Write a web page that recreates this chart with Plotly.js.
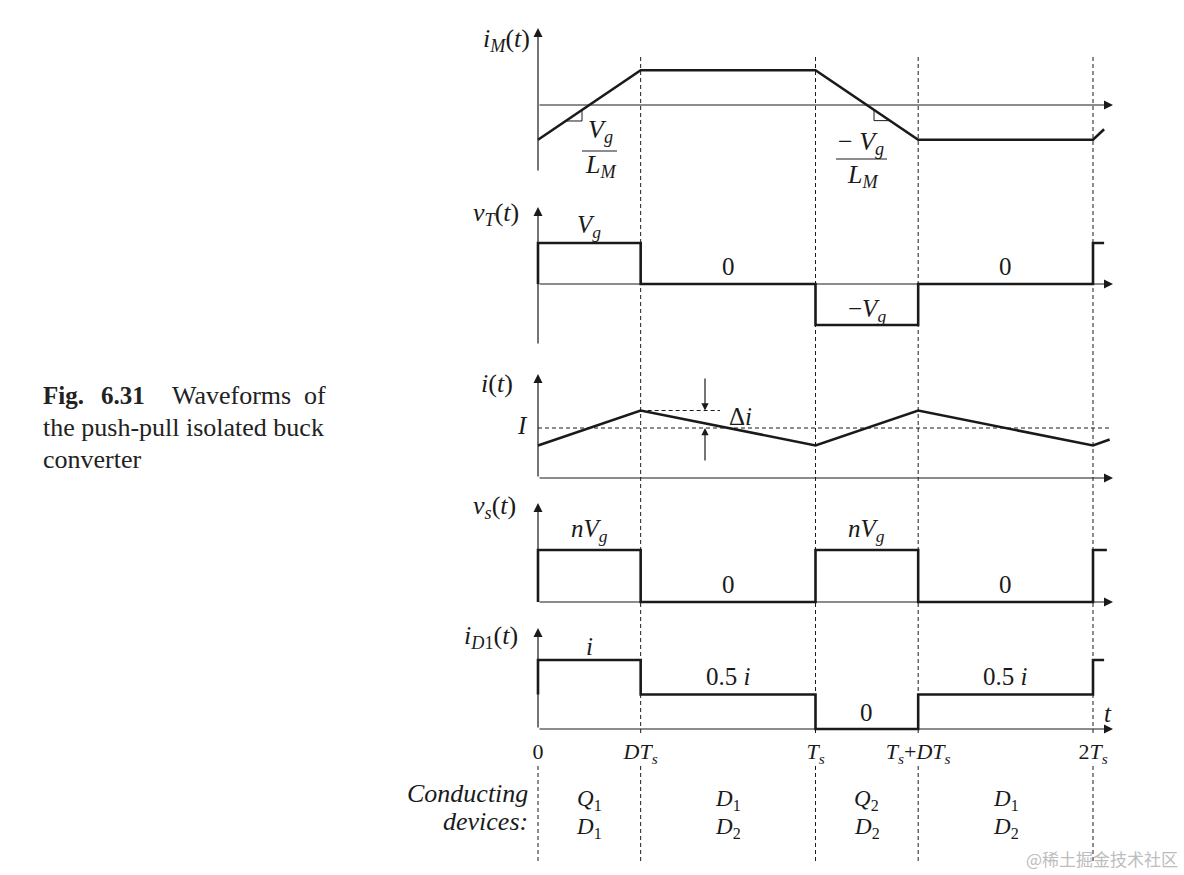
<!DOCTYPE html>
<html><head><meta charset="utf-8">
<script src="https://cdn.plot.ly/plotly-3.0.1.min.js"></script>
<style>html,body{margin:0;padding:0;background:#fff;}#chart{width:1184px;height:875px;}</style>
</head><body><div id="chart"></div>
<script>
// ---------- data (time in units of Ts, D = 0.37) ----------
const tickVals = [0, 0.37, 1, 1.37, 2];
const tickText = ['0', '<i>DT<sub>s</sub></i>', '<i>T<sub>s</sub></i>',
  '<i>T<sub>s</sub></i>+<i>DT<sub>s</sub></i>', '2<i>T<sub>s</sub></i>'];

const tIM = [0, 0.37, 1, 1.37, 2, 2.04];
const iM  = [-1, 1, 1, -1, -1, -0.7];

const tVT = [0, 0, 0.37, 0.37, 1, 1, 1.37, 1.37, 2, 2, 2.04];
const vT  = [0, 1, 1, 0, 0, -1, -1, 0, 0, 1, 1];

const tI  = [0, 0.37, 1, 1.37, 2, 2.06];
const iL  = [0.65, 1.35, 0.65, 1.35, 0.65, 0.77];
const iAvg = 1;

const tVS = [0, 0, 0.37, 0.37, 1, 1, 1.37, 1.37, 2, 2, 2.05];
const vS  = [0, 1, 1, 0, 0, 1, 1, 0, 0, 1, 1];

const tD1 = [0, 0, 0.37, 0.37, 1, 1, 1.37, 1.37, 2, 2, 2.04];
const iD1 = [0.5, 1, 1, 0.5, 0.5, 0, 0, 0.5, 0.5, 1, 1];

const slope1X = [0.10, 0.1586, 0.1586];
const slope1Y = [-0.46, -0.46, -0.143];
const slope2X = [1.2108, 1.2108, 1.2685];
const slope2Y = [-0.139, -0.45, -0.45];

const intervalMid = [0.185, 0.685, 1.185, 1.685];
const devTop    = ['<i>Q</i><sub>1</sub>', '<i>D</i><sub>1</sub>', '<i>Q</i><sub>2</sub>', '<i>D</i><sub>1</sub>'];
const devBottom = ['<i>D</i><sub>1</sub>', '<i>D</i><sub>2</sub>', '<i>D</i><sub>2</sub>', '<i>D</i><sub>2</sub>'];
const vTLabels  = ['<i>V<sub>g</sub></i>', '0', '−<i>V<sub>g</sub></i>', '0'];
const vSLabels  = ['<i>nV<sub>g</sub></i>', '0', '<i>nV<sub>g</sub></i>', '0'];
const iD1Labels = ['<i>i</i>', '0.5 <i>i</i>', '0', '0.5 <i>i</i>'];

// ---------- layout geometry ----------
const W = 1184, H = 875, X0 = 538, PXU = 277.5;
const SERIF = 'Liberation Serif, Times New Roman, serif';
const INK = '#1a1a1a';
const panels = [
  {top: 0,   bottom: 188, zero: 105, scale: 34.75, tip: 28,  base: 172},
  {top: 188, bottom: 355, zero: 284, scale: 41,    tip: 207, base: 345},
  {top: 355, bottom: 490, zero: 478, scale: 50,    tip: 374, base: 478},
  {top: 490, bottom: 615, zero: 602, scale: 52,    tip: 503, base: 602},
  {top: 615, bottom: 875, zero: 729, scale: 69,    tip: 628, base: 729}
];
const yref = k => k === 0 ? 'y' : 'y' + (k + 1);
const ykey = k => k === 0 ? 'yaxis' : 'yaxis' + (k + 1);
const V = (k, px) => (panels[k].zero - px) / panels[k].scale;
const P = px => 1 - px / H;
const XP = px => (px - X0) / PXU;

const layout = {
  width: W, height: H,
  margin: {l: 0, r: 0, t: 0, b: 0, pad: 0},
  paper_bgcolor: '#fff', plot_bgcolor: 'rgba(0,0,0,0)',
  showlegend: false,
  xaxis: {
    domain: [0, 1], range: [XP(0), XP(W)], anchor: 'free', position: P(736),
    showgrid: false, zeroline: false, showline: false, ticks: '',
    tickvals: tickVals, ticktext: tickText,
    tickfont: {family: SERIF, size: 22, color: INK}, fixedrange: true
  },
  shapes: [], annotations: []
};
panels.forEach((p, k) => {
  layout[ykey(k)] = {
    domain: [P(p.bottom), P(p.top)],
    range: [(p.zero - p.bottom) / p.scale, (p.zero - p.top) / p.scale],
    anchor: 'x', visible: false, fixedrange: true
  };
});

// ---------- traces ----------
const wave = {color: INK, width: 2.6};
const traces = [
  {x: tIM, y: iM, yaxis: 'y'},
  {x: tVT, y: vT, yaxis: 'y2'},
  {x: tI,  y: iL, yaxis: 'y3'},
  {x: tVS, y: vS, yaxis: 'y4'},
  {x: tD1, y: iD1, yaxis: 'y5'}
].map(t => Object.assign(t, {type: 'scatter', mode: 'lines', xaxis: 'x', line: wave, hoverinfo: 'skip'}));
traces.push({x: slope1X, y: slope1Y, yaxis: 'y', xaxis: 'x', type: 'scatter', mode: 'lines', line: {color: INK, width: 1}, hoverinfo: 'skip'});
traces.push({x: slope2X, y: slope2Y, yaxis: 'y', xaxis: 'x', type: 'scatter', mode: 'lines', line: {color: INK, width: 1}, hoverinfo: 'skip'});

// ---------- axes with arrows ----------
const arrowStyle = {showarrow: true, arrowhead: 2, arrowsize: 1.5, arrowwidth: 1.2, arrowcolor: INK, text: '', standoff: 0, startstandoff: 0};
panels.forEach((p, k) => {
  layout.annotations.push(Object.assign({}, arrowStyle, {
    xref: 'x', yref: yref(k), axref: 'x', ayref: yref(k),
    x: 0, y: V(k, p.tip), ax: 0, ay: V(k, p.base)
  }));
  layout.annotations.push(Object.assign({}, arrowStyle, {
    xref: 'x', yref: yref(k), axref: 'x', ayref: yref(k),
    x: XP(1113), y: 0, ax: 0, ay: 0
  }));
});

// ---------- dashed verticals ----------
const dashLine = {color: INK, width: 1, dash: '4px,3px'};
tickVals.forEach(tv => {
  if (tv !== 0) layout.shapes.push({type: 'line', xref: 'x', yref: 'paper', x0: tv, x1: tv, y0: P(57), y1: P(733), line: dashLine, layer: 'below'});
  layout.shapes.push({type: 'line', xref: 'x', yref: 'paper', x0: tv, x1: tv, y0: P(766), y1: P(861), line: dashLine, layer: 'below'});
});
// I level and peak reference in i(t)
layout.shapes.push({type: 'line', xref: 'x', yref: 'y3', x0: 0, x1: XP(1110), y0: iAvg, y1: iAvg, line: dashLine});
layout.shapes.push({type: 'line', xref: 'x', yref: 'y3', x0: tI[1], x1: XP(720), y0: iL[1], y1: iL[1], line: dashLine});
// fraction bars
layout.shapes.push({type: 'line', xref: 'x', yref: 'y', x0: XP(582), x1: XP(617), y0: V(0, 151), y1: V(0, 151), line: {color: INK, width: 1}});
layout.shapes.push({type: 'line', xref: 'x', yref: 'y', x0: XP(836), x1: XP(887), y0: V(0, 159), y1: V(0, 159), line: {color: INK, width: 1}});

// ---------- text ----------
function T(text, x, y, yr, opts) {
  return Object.assign({text: text, x: x, y: y, xref: 'x', yref: yr, showarrow: false,
    xanchor: 'center', yanchor: 'middle', font: {family: SERIF, size: 25, color: INK}}, opts || {});
}
const big = {family: SERIF, size: 26, color: INK};
const A = layout.annotations;
// axis names
A.push(T('<i>i<sub>M</sub></i>(<i>t</i>)', XP(532), V(0, 40), 'y', {xanchor: 'right', font: big}));
A.push(T('<i>v<sub>T</sub></i>(<i>t</i>)', XP(521), V(1, 214), 'y2', {xanchor: 'right', font: big}));
A.push(T('<i>i</i>(<i>t</i>)', XP(515), V(2, 383), 'y3', {xanchor: 'right', font: big}));
A.push(T('<i>v<sub>s</sub></i>(<i>t</i>)', XP(518), V(3, 507), 'y4', {xanchor: 'right', font: big}));
A.push(T('<i>i<sub>D</sub></i><sub>1</sub>(<i>t</i>)', XP(520), V(4, 637), 'y5', {xanchor: 'right', font: big}));
// slopes
A.push(T('<i>V<sub>g</sub></i>', XP(600), V(0, 131), 'y', {font: big}));
A.push(T('<i>L<sub>M</sub></i>', XP(600), V(0, 166), 'y', {font: big}));
A.push(T('− <i>V<sub>g</sub></i>', XP(861), V(0, 143), 'y', {font: big}));
A.push(T('<i>L<sub>M</sub></i>', XP(862), V(0, 176), 'y', {font: big}));
// vT
vTLabels.forEach((s, j) => A.push(T(s, intervalMid[j], V(1, [226, 266, 310, 266][j]), 'y2')));
// i(t)
A.push(T('<i>I</i>', XP(522), iAvg, 'y3', {yshift: 3}));
A.push(T('Δ<i>i</i>', XP(727), V(2, 416), 'y3', {xanchor: 'left'}));
A.push(Object.assign({}, arrowStyle, {xref: 'x', yref: 'y3', axref: 'x', ayref: 'y3', x: XP(705), y: iL[1], ax: XP(705), ay: V(2, 377), arrowsize: 1.2}));
A.push(Object.assign({}, arrowStyle, {xref: 'x', yref: 'y3', axref: 'x', ayref: 'y3', x: XP(705), y: iAvg, ax: XP(705), ay: V(2, 462), arrowsize: 1.2}));
// vs
vSLabels.forEach((s, j) => A.push(T(s, intervalMid[j], V(3, [530, 584, 530, 584][j]), 'y4')));
// iD1
iD1Labels.forEach((s, j) => A.push(T(s, intervalMid[j], V(4, [646, 676, 712, 676][j]), 'y5')));
A.push(T('<i>t</i>', XP(1108), V(4, 713), 'y5'));
// conducting devices
A.push(T('<i>Conducting</i>', XP(530), P(793), 'paper', {xanchor: 'right', font: {family: SERIF, size: 26, color: INK}}));
A.push(T('<i>devices:</i>', XP(530), P(821), 'paper', {xanchor: 'right', font: {family: SERIF, size: 26, color: INK}}));
intervalMid.forEach((m, j) => {
  A.push(T(devTop[j], m, P(800), 'paper', {font: {family: SERIF, size: 23, color: INK}}));
  A.push(T(devBottom[j], m, P(828), 'paper', {font: {family: SERIF, size: 23, color: INK}}));
});
// caption
const cap = (text, px, py, anchor, size) => ({text: text, x: px / W, y: P(py), xref: 'paper', yref: 'paper', showarrow: false,
  xanchor: anchor, yanchor: 'middle', font: {family: SERIF, size: size || 26, color: '#222'}});
A.push(cap('<b>Fig.</b>', 41, 395, 'left', 25));
A.push(cap('<b>6.31</b>', 99, 395, 'left', 25));
A.push(cap('Waveforms', 170, 395, 'left'));
A.push(cap('of', 328, 395, 'right'));
A.push(cap('the push-pull isolated buck', 41, 427, 'left'));
A.push(cap('converter', 41, 459, 'left'));
// watermark
A.push({text: '@稀土掘金技术社区', x: 1180 / W, y: P(858), xref: 'paper', yref: 'paper', showarrow: false,
  xanchor: 'right', yanchor: 'middle', font: {family: 'Noto Sans CJK SC', size: 17, color: '#bdbdbd'}});

Plotly.newPlot('chart', traces, layout, {staticPlot: true, displayModeBar: false});
</script>
</body></html>
